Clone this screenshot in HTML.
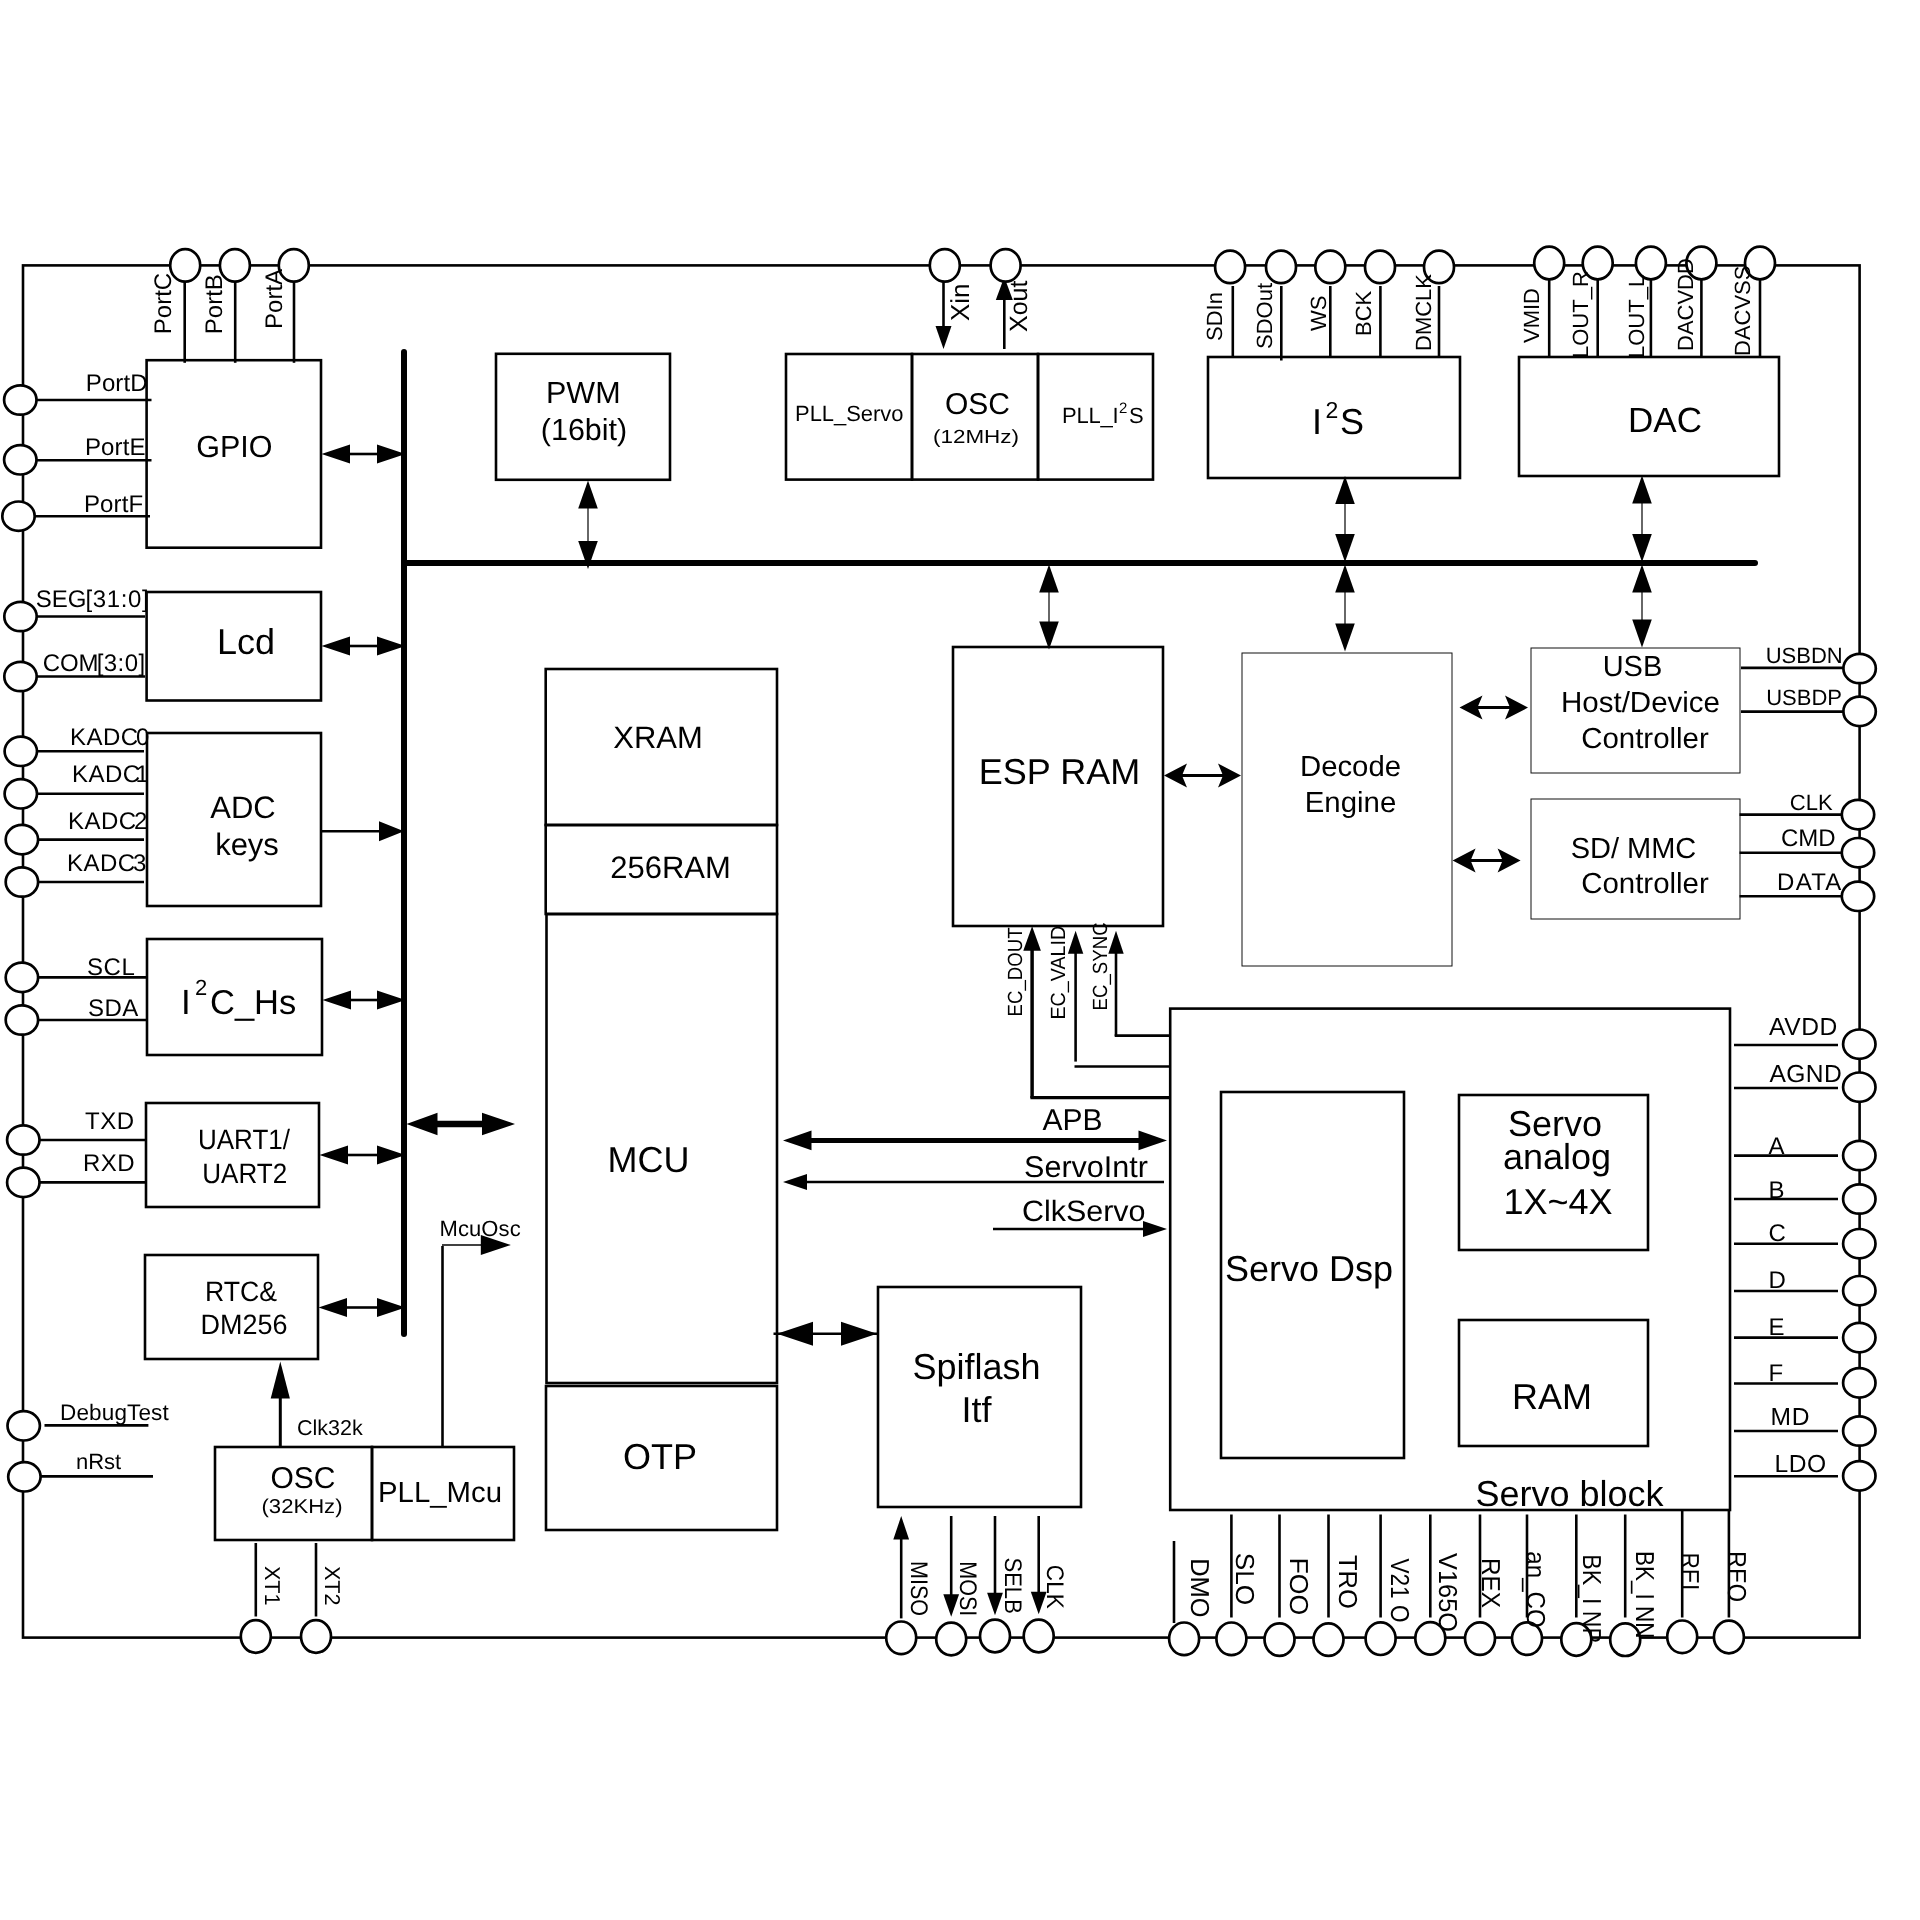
<!DOCTYPE html>
<html><head><meta charset="utf-8"><style>
html,body{margin:0;padding:0;background:#fff;}
body{width:1920px;height:1920px;overflow:hidden;}
svg{display:block;font-family:"Liberation Sans",sans-serif;fill:#000;opacity:0.9999;will-change:opacity;}
text{text-rendering:geometricPrecision;}
</style></head><body>
<svg width="1920" height="1920" viewBox="0 0 1920 1920">
<rect x="23" y="265.4" width="1836.6" height="1372.1999999999998" fill="none" stroke="#000" stroke-width="2.6"/>
<line x1="404" y1="352" x2="404" y2="1334" stroke="#000" stroke-width="6" stroke-linecap="round"/>
<line x1="404" y1="563" x2="1755" y2="563" stroke="#000" stroke-width="6" stroke-linecap="round"/>
<rect x="146.6" y="360.2" width="174.4" height="187.50000000000006" fill="none" stroke="#000" stroke-width="2.6"/>
<rect x="146.6" y="592" width="174.4" height="108.5" fill="none" stroke="#000" stroke-width="2.6"/>
<rect x="147" y="733" width="174" height="173" fill="none" stroke="#000" stroke-width="2.6"/>
<rect x="147" y="939" width="175" height="116" fill="none" stroke="#000" stroke-width="2.6"/>
<rect x="146" y="1103" width="173" height="104" fill="none" stroke="#000" stroke-width="2.6"/>
<rect x="145" y="1255" width="173" height="104" fill="none" stroke="#000" stroke-width="2.6"/>
<rect x="215" y="1447" width="157" height="93" fill="none" stroke="#000" stroke-width="2.6"/>
<rect x="372" y="1447" width="142" height="93" fill="none" stroke="#000" stroke-width="2.6"/>
<rect x="496" y="353.8" width="174" height="126.0" fill="none" stroke="#000" stroke-width="2.6"/>
<rect x="786" y="354" width="126" height="125.60000000000002" fill="none" stroke="#000" stroke-width="2.6"/>
<rect x="912" y="354" width="126" height="125.60000000000002" fill="none" stroke="#000" stroke-width="2.6"/>
<rect x="1038" y="354" width="115" height="125.60000000000002" fill="none" stroke="#000" stroke-width="2.6"/>
<rect x="1208" y="357" width="252" height="121" fill="none" stroke="#000" stroke-width="2.6"/>
<rect x="1519" y="357" width="260" height="119" fill="none" stroke="#000" stroke-width="2.6"/>
<rect x="545.7" y="669" width="231.29999999999995" height="156" fill="none" stroke="#000" stroke-width="2.6"/>
<rect x="545.7" y="825" width="231.29999999999995" height="89" fill="none" stroke="#000" stroke-width="2.6"/>
<rect x="546.5" y="914" width="230.5" height="469" fill="none" stroke="#000" stroke-width="2.6"/>
<rect x="546" y="1386" width="231" height="144" fill="none" stroke="#000" stroke-width="2.6"/>
<rect x="953" y="647" width="210" height="279" fill="none" stroke="#000" stroke-width="2.6"/>
<rect x="1242" y="653" width="210" height="313" fill="none" stroke="#111" stroke-width="1.0"/>
<rect x="1531" y="648" width="209" height="125" fill="none" stroke="#111" stroke-width="1.0"/>
<rect x="1531" y="799" width="209" height="120" fill="none" stroke="#111" stroke-width="1.0"/>
<rect x="1170.2" y="1008.6" width="559.8" height="501.4" fill="none" stroke="#000" stroke-width="2.6"/>
<rect x="1221" y="1092" width="183" height="366" fill="none" stroke="#000" stroke-width="2.6"/>
<rect x="1459" y="1095" width="189" height="155" fill="none" stroke="#000" stroke-width="2.6"/>
<rect x="1459" y="1320" width="189" height="126" fill="none" stroke="#000" stroke-width="2.6"/>
<rect x="878" y="1287" width="203" height="220" fill="none" stroke="#000" stroke-width="2.6"/>
<line x1="184.7" y1="280" x2="184.7" y2="362.8" stroke="#000" stroke-width="2.6" stroke-linecap="butt"/>
<ellipse cx="185.2" cy="265.4" rx="15.0" ry="16.3" fill="#fff" stroke="#000" stroke-width="2.7"/>
<line x1="235.2" y1="280" x2="235.2" y2="362.8" stroke="#000" stroke-width="2.6" stroke-linecap="butt"/>
<ellipse cx="234.9" cy="265.4" rx="15.0" ry="16.3" fill="#fff" stroke="#000" stroke-width="2.7"/>
<line x1="294" y1="280" x2="294" y2="362.8" stroke="#000" stroke-width="2.6" stroke-linecap="butt"/>
<ellipse cx="293.8" cy="265.4" rx="15.0" ry="16.3" fill="#fff" stroke="#000" stroke-width="2.7"/>
<line x1="36" y1="400" x2="151.5" y2="400" stroke="#000" stroke-width="2.6" stroke-linecap="butt"/>
<line x1="36" y1="460.2" x2="151.5" y2="460.2" stroke="#000" stroke-width="2.6" stroke-linecap="butt"/>
<line x1="34" y1="516.2" x2="150" y2="516.2" stroke="#000" stroke-width="2.6" stroke-linecap="butt"/>
<ellipse cx="20.3" cy="400" rx="16.2" ry="14.7" fill="#fff" stroke="#000" stroke-width="2.7"/>
<ellipse cx="20.3" cy="459.8" rx="16.2" ry="14.7" fill="#fff" stroke="#000" stroke-width="2.7"/>
<ellipse cx="18.5" cy="516.2" rx="16.2" ry="14.7" fill="#fff" stroke="#000" stroke-width="2.7"/>
<line x1="35" y1="616.5" x2="145" y2="616.5" stroke="#000" stroke-width="2.6" stroke-linecap="butt"/>
<ellipse cx="20.5" cy="616.5" rx="16.2" ry="14.7" fill="#fff" stroke="#000" stroke-width="2.7"/>
<line x1="35" y1="676.5" x2="145" y2="676.5" stroke="#000" stroke-width="2.6" stroke-linecap="butt"/>
<ellipse cx="20.5" cy="676.5" rx="16.2" ry="14.7" fill="#fff" stroke="#000" stroke-width="2.7"/>
<line x1="36" y1="751.3" x2="144" y2="751.3" stroke="#000" stroke-width="2.6" stroke-linecap="butt"/>
<ellipse cx="20.8" cy="751.3" rx="16.2" ry="14.7" fill="#fff" stroke="#000" stroke-width="2.7"/>
<line x1="36" y1="793.8" x2="144" y2="793.8" stroke="#000" stroke-width="2.6" stroke-linecap="butt"/>
<ellipse cx="20.8" cy="793.8" rx="16.2" ry="14.7" fill="#fff" stroke="#000" stroke-width="2.7"/>
<line x1="36" y1="839.6" x2="144" y2="839.6" stroke="#000" stroke-width="2.6" stroke-linecap="butt"/>
<ellipse cx="21.9" cy="839.6" rx="16.2" ry="14.7" fill="#fff" stroke="#000" stroke-width="2.7"/>
<line x1="36" y1="882" x2="144" y2="882" stroke="#000" stroke-width="2.6" stroke-linecap="butt"/>
<ellipse cx="21.9" cy="882" rx="16.2" ry="14.7" fill="#fff" stroke="#000" stroke-width="2.7"/>
<line x1="37" y1="977.4" x2="146" y2="977.4" stroke="#000" stroke-width="2.6" stroke-linecap="butt"/>
<ellipse cx="21.9" cy="977.4" rx="16.2" ry="14.7" fill="#fff" stroke="#000" stroke-width="2.7"/>
<line x1="37" y1="1020" x2="146" y2="1020" stroke="#000" stroke-width="2.6" stroke-linecap="butt"/>
<ellipse cx="21.9" cy="1020" rx="16.2" ry="14.7" fill="#fff" stroke="#000" stroke-width="2.7"/>
<line x1="38" y1="1140" x2="146" y2="1140" stroke="#000" stroke-width="2.6" stroke-linecap="butt"/>
<ellipse cx="23.3" cy="1140" rx="16.2" ry="14.7" fill="#fff" stroke="#000" stroke-width="2.7"/>
<line x1="38" y1="1182.4" x2="146" y2="1182.4" stroke="#000" stroke-width="2.6" stroke-linecap="butt"/>
<ellipse cx="23.3" cy="1182.4" rx="16.2" ry="14.7" fill="#fff" stroke="#000" stroke-width="2.7"/>
<line x1="44.5" y1="1425.4" x2="148.4" y2="1425.4" stroke="#000" stroke-width="2.6" stroke-linecap="butt"/>
<ellipse cx="23.7" cy="1425.8" rx="16.2" ry="14.7" fill="#fff" stroke="#000" stroke-width="2.7"/>
<line x1="41" y1="1476.4" x2="153" y2="1476.4" stroke="#000" stroke-width="2.6" stroke-linecap="butt"/>
<ellipse cx="24.4" cy="1476.8" rx="16.2" ry="14.7" fill="#fff" stroke="#000" stroke-width="2.7"/>
<line x1="943.5" y1="281" x2="943.5" y2="328" stroke="#000" stroke-width="2.6" stroke-linecap="butt"/>
<polygon points="943.5,349 935.5,326 951.5,326" fill="#000"/>
<ellipse cx="944.8" cy="265.4" rx="15.0" ry="16.3" fill="#fff" stroke="#000" stroke-width="2.7"/>
<line x1="1004.3" y1="300" x2="1004.3" y2="349" stroke="#000" stroke-width="2.6" stroke-linecap="butt"/>
<polygon points="1004.3,277 995.8,300 1012.8,300" fill="#000"/>
<ellipse cx="1005.6" cy="265.4" rx="15.0" ry="16.3" fill="#fff" stroke="#000" stroke-width="2.7"/>
<line x1="1232.8" y1="286" x2="1232.8" y2="356" stroke="#000" stroke-width="2.6" stroke-linecap="butt"/>
<ellipse cx="1230.1" cy="266.9" rx="15.0" ry="16.3" fill="#fff" stroke="#000" stroke-width="2.7"/>
<line x1="1281.3" y1="286" x2="1281.3" y2="360.5" stroke="#000" stroke-width="2.6" stroke-linecap="butt"/>
<ellipse cx="1281" cy="266.9" rx="15.0" ry="16.3" fill="#fff" stroke="#000" stroke-width="2.7"/>
<line x1="1330.3" y1="286" x2="1330.3" y2="356" stroke="#000" stroke-width="2.6" stroke-linecap="butt"/>
<ellipse cx="1330.3" cy="266.9" rx="15.0" ry="16.3" fill="#fff" stroke="#000" stroke-width="2.7"/>
<line x1="1380.4" y1="286" x2="1380.4" y2="356" stroke="#000" stroke-width="2.6" stroke-linecap="butt"/>
<ellipse cx="1380" cy="266.9" rx="15.0" ry="16.3" fill="#fff" stroke="#000" stroke-width="2.7"/>
<line x1="1439" y1="286" x2="1439" y2="356" stroke="#000" stroke-width="2.6" stroke-linecap="butt"/>
<ellipse cx="1439" cy="266.9" rx="15.0" ry="16.3" fill="#fff" stroke="#000" stroke-width="2.7"/>
<line x1="1549.2" y1="280" x2="1549.2" y2="356" stroke="#000" stroke-width="2.6" stroke-linecap="butt"/>
<ellipse cx="1549.2" cy="263" rx="15.0" ry="16.3" fill="#fff" stroke="#000" stroke-width="2.7"/>
<line x1="1597.7" y1="280" x2="1597.7" y2="356" stroke="#000" stroke-width="2.6" stroke-linecap="butt"/>
<ellipse cx="1597.7" cy="263" rx="15.0" ry="16.3" fill="#fff" stroke="#000" stroke-width="2.7"/>
<line x1="1650.9" y1="280" x2="1650.9" y2="356" stroke="#000" stroke-width="2.6" stroke-linecap="butt"/>
<ellipse cx="1650.9" cy="263" rx="15.0" ry="16.3" fill="#fff" stroke="#000" stroke-width="2.7"/>
<line x1="1701.4" y1="280" x2="1701.4" y2="356" stroke="#000" stroke-width="2.6" stroke-linecap="butt"/>
<ellipse cx="1701.4" cy="263" rx="15.0" ry="16.3" fill="#fff" stroke="#000" stroke-width="2.7"/>
<line x1="1760" y1="280" x2="1760" y2="356" stroke="#000" stroke-width="2.6" stroke-linecap="butt"/>
<ellipse cx="1760" cy="263" rx="15.0" ry="16.3" fill="#fff" stroke="#000" stroke-width="2.7"/>
<line x1="1741" y1="667.9" x2="1844" y2="667.9" stroke="#000" stroke-width="2.6" stroke-linecap="butt"/>
<ellipse cx="1859.6" cy="668.5" rx="16.2" ry="14.7" fill="#fff" stroke="#000" stroke-width="2.7"/>
<line x1="1741" y1="711.6" x2="1844" y2="711.6" stroke="#000" stroke-width="2.6" stroke-linecap="butt"/>
<ellipse cx="1859.6" cy="711.4" rx="16.2" ry="14.7" fill="#fff" stroke="#000" stroke-width="2.7"/>
<line x1="1739.5" y1="814.6" x2="1843" y2="814.6" stroke="#000" stroke-width="2.6" stroke-linecap="butt"/>
<ellipse cx="1858" cy="814.6" rx="16.2" ry="14.7" fill="#fff" stroke="#000" stroke-width="2.7"/>
<line x1="1739.5" y1="852.7" x2="1843" y2="852.7" stroke="#000" stroke-width="2.6" stroke-linecap="butt"/>
<ellipse cx="1858" cy="852.7" rx="16.2" ry="14.7" fill="#fff" stroke="#000" stroke-width="2.7"/>
<line x1="1739.5" y1="896.3" x2="1843" y2="896.3" stroke="#000" stroke-width="2.6" stroke-linecap="butt"/>
<ellipse cx="1858" cy="896.3" rx="16.2" ry="14.7" fill="#fff" stroke="#000" stroke-width="2.7"/>
<line x1="1734" y1="1045" x2="1838" y2="1045" stroke="#000" stroke-width="2.6" stroke-linecap="butt"/>
<ellipse cx="1859.3" cy="1044.2" rx="16.2" ry="14.7" fill="#fff" stroke="#000" stroke-width="2.7"/>
<line x1="1734" y1="1088" x2="1838" y2="1088" stroke="#000" stroke-width="2.6" stroke-linecap="butt"/>
<ellipse cx="1859.3" cy="1087.2" rx="16.2" ry="14.7" fill="#fff" stroke="#000" stroke-width="2.7"/>
<line x1="1734" y1="1155.6" x2="1838" y2="1155.6" stroke="#000" stroke-width="2.6" stroke-linecap="butt"/>
<ellipse cx="1859.3" cy="1155.5" rx="16.2" ry="14.7" fill="#fff" stroke="#000" stroke-width="2.7"/>
<line x1="1734" y1="1199" x2="1838" y2="1199" stroke="#000" stroke-width="2.6" stroke-linecap="butt"/>
<ellipse cx="1859.3" cy="1199" rx="16.2" ry="14.7" fill="#fff" stroke="#000" stroke-width="2.7"/>
<line x1="1734" y1="1243.8" x2="1838" y2="1243.8" stroke="#000" stroke-width="2.6" stroke-linecap="butt"/>
<ellipse cx="1859.3" cy="1243.7" rx="16.2" ry="14.7" fill="#fff" stroke="#000" stroke-width="2.7"/>
<line x1="1734" y1="1291" x2="1838" y2="1291" stroke="#000" stroke-width="2.6" stroke-linecap="butt"/>
<ellipse cx="1859.3" cy="1290.7" rx="16.2" ry="14.7" fill="#fff" stroke="#000" stroke-width="2.7"/>
<line x1="1734" y1="1337.6" x2="1838" y2="1337.6" stroke="#000" stroke-width="2.6" stroke-linecap="butt"/>
<ellipse cx="1859.3" cy="1337.6" rx="16.2" ry="14.7" fill="#fff" stroke="#000" stroke-width="2.7"/>
<line x1="1734" y1="1383.5" x2="1838" y2="1383.5" stroke="#000" stroke-width="2.6" stroke-linecap="butt"/>
<ellipse cx="1859.3" cy="1382.9" rx="16.2" ry="14.7" fill="#fff" stroke="#000" stroke-width="2.7"/>
<line x1="1734" y1="1431" x2="1838" y2="1431" stroke="#000" stroke-width="2.6" stroke-linecap="butt"/>
<ellipse cx="1859.3" cy="1431" rx="16.2" ry="14.7" fill="#fff" stroke="#000" stroke-width="2.7"/>
<line x1="1734" y1="1476.2" x2="1838" y2="1476.2" stroke="#000" stroke-width="2.6" stroke-linecap="butt"/>
<ellipse cx="1859.3" cy="1475.9" rx="16.2" ry="14.7" fill="#fff" stroke="#000" stroke-width="2.7"/>
<line x1="255.8" y1="1543" x2="255.8" y2="1616.5" stroke="#000" stroke-width="2.6" stroke-linecap="butt"/>
<ellipse cx="255.8" cy="1636.5" rx="15.0" ry="16.3" fill="#fff" stroke="#000" stroke-width="2.7"/>
<line x1="316" y1="1543" x2="316" y2="1616.5" stroke="#000" stroke-width="2.6" stroke-linecap="butt"/>
<ellipse cx="316" cy="1636.5" rx="15.0" ry="16.3" fill="#fff" stroke="#000" stroke-width="2.7"/>
<line x1="901.2" y1="1538" x2="901.2" y2="1618.4" stroke="#000" stroke-width="2.6" stroke-linecap="butt"/>
<polygon points="901.2,1516 893.3000000000001,1539.5 909.1,1539.5" fill="#000"/>
<ellipse cx="901.2" cy="1637.8" rx="15.0" ry="16.3" fill="#fff" stroke="#000" stroke-width="2.7"/>
<line x1="951.2" y1="1516" x2="951.2" y2="1595.8" stroke="#000" stroke-width="2.6" stroke-linecap="butt"/>
<polygon points="951.2,1616.8 943.3000000000001,1594.3 959.1,1594.3" fill="#000"/>
<line x1="995" y1="1516" x2="995" y2="1594.2" stroke="#000" stroke-width="2.6" stroke-linecap="butt"/>
<polygon points="995,1615.2 987.1,1592.7 1002.9,1592.7" fill="#000"/>
<line x1="1038.7" y1="1516" x2="1038.7" y2="1593.2" stroke="#000" stroke-width="2.6" stroke-linecap="butt"/>
<polygon points="1038.7,1614.2 1030.8,1591.7 1046.6000000000001,1591.7" fill="#000"/>
<ellipse cx="951.2" cy="1639" rx="15.0" ry="16.3" fill="#fff" stroke="#000" stroke-width="2.7"/>
<ellipse cx="995" cy="1636" rx="15.0" ry="16.3" fill="#fff" stroke="#000" stroke-width="2.7"/>
<ellipse cx="1038.7" cy="1636" rx="15.0" ry="16.3" fill="#fff" stroke="#000" stroke-width="2.7"/>
<line x1="1174" y1="1541" x2="1174" y2="1623" stroke="#000" stroke-width="2.6" stroke-linecap="butt"/>
<line x1="1231.4" y1="1514.5" x2="1231.4" y2="1617.5" stroke="#000" stroke-width="2.6" stroke-linecap="butt"/>
<line x1="1279.5" y1="1514.5" x2="1279.5" y2="1617.5" stroke="#000" stroke-width="2.6" stroke-linecap="butt"/>
<line x1="1328.5" y1="1514.5" x2="1328.5" y2="1617.5" stroke="#000" stroke-width="2.6" stroke-linecap="butt"/>
<line x1="1380.6" y1="1514.5" x2="1380.6" y2="1617.5" stroke="#000" stroke-width="2.6" stroke-linecap="butt"/>
<line x1="1430.3" y1="1514.5" x2="1430.3" y2="1617.5" stroke="#000" stroke-width="2.6" stroke-linecap="butt"/>
<line x1="1480" y1="1514.5" x2="1480" y2="1617.5" stroke="#000" stroke-width="2.6" stroke-linecap="butt"/>
<line x1="1527" y1="1514.5" x2="1527" y2="1617.5" stroke="#000" stroke-width="2.6" stroke-linecap="butt"/>
<line x1="1576.3" y1="1514.5" x2="1576.3" y2="1617.5" stroke="#000" stroke-width="2.6" stroke-linecap="butt"/>
<line x1="1625.2" y1="1514.5" x2="1625.2" y2="1617.5" stroke="#000" stroke-width="2.6" stroke-linecap="butt"/>
<line x1="1682.2" y1="1511" x2="1682.2" y2="1617.5" stroke="#000" stroke-width="2.6" stroke-linecap="butt"/>
<line x1="1728.9" y1="1511" x2="1728.9" y2="1617.5" stroke="#000" stroke-width="2.6" stroke-linecap="butt"/>
<ellipse cx="1184.1" cy="1638.8" rx="15.0" ry="16.3" fill="#fff" stroke="#000" stroke-width="2.7"/>
<ellipse cx="1231.4" cy="1638.8" rx="15.0" ry="16.3" fill="#fff" stroke="#000" stroke-width="2.7"/>
<ellipse cx="1279.5" cy="1639.6" rx="15.0" ry="16.3" fill="#fff" stroke="#000" stroke-width="2.7"/>
<ellipse cx="1328.5" cy="1639.6" rx="15.0" ry="16.3" fill="#fff" stroke="#000" stroke-width="2.7"/>
<ellipse cx="1380.6" cy="1638.7" rx="15.0" ry="16.3" fill="#fff" stroke="#000" stroke-width="2.7"/>
<ellipse cx="1430.3" cy="1638.4" rx="15.0" ry="16.3" fill="#fff" stroke="#000" stroke-width="2.7"/>
<ellipse cx="1480" cy="1638.6" rx="15.0" ry="16.3" fill="#fff" stroke="#000" stroke-width="2.7"/>
<ellipse cx="1527" cy="1638.6" rx="15.0" ry="16.3" fill="#fff" stroke="#000" stroke-width="2.7"/>
<ellipse cx="1576.3" cy="1639.5" rx="15.0" ry="16.3" fill="#fff" stroke="#000" stroke-width="2.7"/>
<ellipse cx="1625.2" cy="1639.7" rx="15.0" ry="16.3" fill="#fff" stroke="#000" stroke-width="2.7"/>
<ellipse cx="1682.2" cy="1636.8" rx="15.0" ry="16.3" fill="#fff" stroke="#000" stroke-width="2.7"/>
<ellipse cx="1728.9" cy="1637" rx="15.0" ry="16.3" fill="#fff" stroke="#000" stroke-width="2.7"/>
<line x1="349.0" y1="454" x2="378.0" y2="454" stroke="#000" stroke-width="2.6" stroke-linecap="butt"/>
<polygon points="321.5,454 350.0,444.4 350.0,463.6" fill="#000"/>
<polygon points="405.5,454 377.0,444.4 377.0,463.6" fill="#000"/>
<line x1="349.0" y1="646" x2="378.0" y2="646" stroke="#000" stroke-width="2.6" stroke-linecap="butt"/>
<polygon points="321.5,646 350.0,636.4 350.0,655.6" fill="#000"/>
<polygon points="405.5,646 377.0,636.4 377.0,655.6" fill="#000"/>
<line x1="321" y1="831.2" x2="380" y2="831.2" stroke="#000" stroke-width="2.6" stroke-linecap="butt"/>
<polygon points="404,831.2 379,821.2 379,841.2" fill="#000"/>
<line x1="350.0" y1="1000" x2="378.0" y2="1000" stroke="#000" stroke-width="2.6" stroke-linecap="butt"/>
<polygon points="322.5,1000 351.0,990.4 351.0,1009.6" fill="#000"/>
<polygon points="405.5,1000 377.0,990.4 377.0,1009.6" fill="#000"/>
<line x1="347.0" y1="1155" x2="378.0" y2="1155" stroke="#000" stroke-width="2.6" stroke-linecap="butt"/>
<polygon points="319.5,1155 348.0,1145.4 348.0,1164.6" fill="#000"/>
<polygon points="405.5,1155 377.0,1145.4 377.0,1164.6" fill="#000"/>
<line x1="346.0" y1="1307.5" x2="378.0" y2="1307.5" stroke="#000" stroke-width="2.6" stroke-linecap="butt"/>
<polygon points="318.5,1307.5 347.0,1297.9 347.0,1317.1" fill="#000"/>
<polygon points="405.5,1307.5 377.0,1297.9 377.0,1317.1" fill="#000"/>
<line x1="435" y1="1124" x2="485" y2="1124" stroke="#000" stroke-width="6.5" stroke-linecap="butt"/>
<polygon points="406.5,1124 437.5,1112.7 437.5,1135.3" fill="#000"/>
<polygon points="515,1124 482,1112.7 482,1135.3" fill="#000"/>
<line x1="588" y1="507.5" x2="588" y2="542" stroke="#000" stroke-width="1.2" stroke-linecap="butt"/>
<polygon points="588,480.5 578.2,508.5 597.8,508.5" fill="#000"/>
<polygon points="588,569 578.2,541 597.8,541" fill="#000"/>
<line x1="1049" y1="591.5" x2="1049" y2="622.5" stroke="#000" stroke-width="1.2" stroke-linecap="butt"/>
<polygon points="1049,564.5 1039.2,592.5 1058.8,592.5" fill="#000"/>
<polygon points="1049,649.5 1039.2,621.5 1058.8,621.5" fill="#000"/>
<line x1="1345" y1="503" x2="1345" y2="535" stroke="#000" stroke-width="1.2" stroke-linecap="butt"/>
<polygon points="1345,476 1335.2,504 1354.8,504" fill="#000"/>
<polygon points="1345,562 1335.2,534 1354.8,534" fill="#000"/>
<line x1="1345" y1="591.5" x2="1345" y2="624.5" stroke="#000" stroke-width="1.2" stroke-linecap="butt"/>
<polygon points="1345,564.5 1335.2,592.5 1354.8,592.5" fill="#000"/>
<polygon points="1345,651.5 1335.2,623.5 1354.8,623.5" fill="#000"/>
<line x1="1642" y1="502.5" x2="1642" y2="535" stroke="#000" stroke-width="1.2" stroke-linecap="butt"/>
<polygon points="1642,475.5 1632.2,503.5 1651.8,503.5" fill="#000"/>
<polygon points="1642,562 1632.2,534 1651.8,534" fill="#000"/>
<line x1="1642" y1="591.5" x2="1642" y2="620.5" stroke="#000" stroke-width="1.2" stroke-linecap="butt"/>
<polygon points="1642,564.5 1632.2,592.5 1651.8,592.5" fill="#000"/>
<polygon points="1642,647.5 1632.2,619.5 1651.8,619.5" fill="#000"/>
<line x1="1181" y1="775.6" x2="1224" y2="775.6" stroke="#000" stroke-width="3" stroke-linecap="butt"/>
<polygon points="1164,775.6 1187,763.6 1182,775.6 1187,787.6" fill="#000"/>
<polygon points="1241,775.6 1218,763.6 1223,775.6 1218,787.6" fill="#000"/>
<line x1="1476.5" y1="707.6" x2="1511" y2="707.6" stroke="#000" stroke-width="3" stroke-linecap="butt"/>
<polygon points="1459.5,707.6 1482.5,695.6 1477.5,707.6 1482.5,719.6" fill="#000"/>
<polygon points="1528,707.6 1505,695.6 1510,707.6 1505,719.6" fill="#000"/>
<line x1="1469.6" y1="860.6" x2="1503.6" y2="860.6" stroke="#000" stroke-width="3" stroke-linecap="butt"/>
<polygon points="1452.6,860.6 1475.6,848.6 1470.6,860.6 1475.6,872.6" fill="#000"/>
<polygon points="1520.6,860.6 1497.6,848.6 1502.6,860.6 1497.6,872.6" fill="#000"/>
<line x1="1032.1" y1="949" x2="1032.1" y2="1098" stroke="#000" stroke-width="3.5" stroke-linecap="butt"/>
<line x1="1030.4" y1="1097.7" x2="1170" y2="1097.7" stroke="#000" stroke-width="3.2" stroke-linecap="butt"/>
<polygon points="1032.1,926.3 1023.3,950.8 1040.8999999999999,950.8" fill="#000"/>
<line x1="1075.6" y1="952" x2="1075.6" y2="1061.6" stroke="#000" stroke-width="2.6" stroke-linecap="butt"/>
<line x1="1074.5" y1="1066.5" x2="1170" y2="1066.5" stroke="#000" stroke-width="2.6" stroke-linecap="butt"/>
<polygon points="1075.6,930.7 1067.8999999999999,953.7 1083.3,953.7" fill="#000"/>
<line x1="1116" y1="952" x2="1116" y2="1036" stroke="#000" stroke-width="2.6" stroke-linecap="butt"/>
<line x1="1114.7" y1="1035.6" x2="1170" y2="1035.6" stroke="#000" stroke-width="2.6" stroke-linecap="butt"/>
<polygon points="1116,930.7 1108.3,953.7 1123.7,953.7" fill="#000"/>
<line x1="810" y1="1140.4" x2="1140" y2="1140.4" stroke="#000" stroke-width="5" stroke-linecap="butt"/>
<polygon points="783,1140.4 811.5,1130.6000000000001 811.5,1150.2" fill="#000"/>
<polygon points="1167,1140.4 1138.5,1130.6000000000001 1138.5,1150.2" fill="#000"/>
<line x1="805" y1="1182" x2="1164" y2="1182" stroke="#000" stroke-width="2.6" stroke-linecap="butt"/>
<polygon points="783,1182 807,1174 807,1190" fill="#000"/>
<line x1="993" y1="1229" x2="1145" y2="1229" stroke="#000" stroke-width="2.6" stroke-linecap="butt"/>
<polygon points="1167,1229 1143,1221 1143,1237" fill="#000"/>
<line x1="773.5" y1="1333.8" x2="878" y2="1333.8" stroke="#000" stroke-width="2.6" stroke-linecap="butt"/>
<polygon points="777,1333.8 813,1321.8 813,1345.8" fill="#000"/>
<polygon points="877,1333.8 841,1321.8 841,1345.8" fill="#000"/>
<line x1="280.3" y1="1395" x2="280.3" y2="1447" stroke="#000" stroke-width="3" stroke-linecap="butt"/>
<polygon points="280.3,1361.5 270.7,1398.5 289.90000000000003,1398.5" fill="#000"/>
<line x1="442.5" y1="1246" x2="442.5" y2="1447" stroke="#000" stroke-width="2.6" stroke-linecap="butt"/>
<line x1="442" y1="1245" x2="485" y2="1245" stroke="#000" stroke-width="1.5" stroke-linecap="butt"/>
<polygon points="510.8,1245 480.8,1235 480.8,1255" fill="#000"/>
<text x="171.4" y="334.2" font-size="24" text-anchor="start" transform="rotate(-90 171.4 334.2)">PortC</text>
<text x="221.6" y="334.2" font-size="24" text-anchor="start" transform="rotate(-90 221.6 334.2)">PortB</text>
<text x="282.4" y="328.9" font-size="24" text-anchor="start" transform="rotate(-90 282.4 328.9)">PortA</text>
<text x="85.8" y="391.3" font-size="24" text-anchor="start" letter-spacing="0.1">PortD</text>
<text x="85" y="455" font-size="24" text-anchor="start" letter-spacing="0.1">PortE</text>
<text x="84" y="512" font-size="24" text-anchor="start" letter-spacing="0.1">PortF</text>
<text x="234.3" y="456.8" font-size="30.5" text-anchor="middle">GPIO</text>
<text x="35.8" y="607" font-size="24" text-anchor="start">SEG<tspan dx="-0.9" letter-spacing="0.6">[31:0]</tspan></text>
<text x="42.8" y="671" font-size="24" text-anchor="start" letter-spacing="-0.2">COM<tspan dx="-1.4" letter-spacing="0.4">[3:0]</tspan></text>
<text x="246" y="654" font-size="36" text-anchor="middle">Lcd</text>
<text x="70" y="745.2" font-size="24" text-anchor="start" letter-spacing="0.5">KADC<tspan dx="-2.8">0</tspan></text>
<text x="72" y="782.2" font-size="24" text-anchor="start" letter-spacing="0.5">KADC<tspan dx="-5.2">1</tspan></text>
<text x="68" y="829.2" font-size="24" text-anchor="start" letter-spacing="0.5">KADC<tspan dx="-2.8">2</tspan></text>
<text x="67" y="871.2" font-size="24" text-anchor="start" letter-spacing="0.5">KADC<tspan dx="-2.8">3</tspan></text>
<text x="243" y="818" font-size="31" text-anchor="middle">ADC</text>
<text x="247" y="855" font-size="31" text-anchor="middle">keys</text>
<text x="87" y="975" font-size="24" text-anchor="start" letter-spacing="0.6">SCL</text>
<text x="88" y="1016" font-size="24" text-anchor="start" letter-spacing="0.5">SDA</text>
<text x="181" y="1013.5" font-size="35" text-anchor="start">I</text>
<text x="195" y="995" font-size="22" text-anchor="start">2</text>
<text x="210" y="1013.5" font-size="34.5" text-anchor="start">C_Hs</text>
<text x="85" y="1129" font-size="24" text-anchor="start" letter-spacing="0.5">TXD</text>
<text x="83" y="1171" font-size="24" text-anchor="start" letter-spacing="0.5">RXD</text>
<text x="244" y="1149" font-size="28" text-anchor="middle" textLength="92" lengthAdjust="spacingAndGlyphs">UART1/</text>
<text x="244.7" y="1183" font-size="28" text-anchor="middle" textLength="85" lengthAdjust="spacingAndGlyphs">UART2</text>
<text x="241" y="1301" font-size="28" text-anchor="middle" textLength="72" lengthAdjust="spacingAndGlyphs">RTC&amp;</text>
<text x="244" y="1334" font-size="28" text-anchor="middle" textLength="87" lengthAdjust="spacingAndGlyphs">DM256</text>
<text x="60" y="1419.8" font-size="22.5" text-anchor="start" letter-spacing="0.15">DebugTest</text>
<text x="76" y="1469.3" font-size="22" text-anchor="start">nRst</text>
<text x="297" y="1435" font-size="21.5" text-anchor="start">Clk32k</text>
<text x="303" y="1487.5" font-size="30" text-anchor="middle">OSC</text>
<text x="302" y="1513" font-size="20" text-anchor="middle" textLength="81" lengthAdjust="spacingAndGlyphs">(32KHz)</text>
<text x="440" y="1502" font-size="29" text-anchor="middle" textLength="124" lengthAdjust="spacingAndGlyphs">PLL_Mcu</text>
<text x="439.5" y="1236" font-size="22" text-anchor="start" letter-spacing="0.1">McuOsc</text>
<text x="264.5" y="1566" font-size="21.5" text-anchor="start" transform="rotate(90 264.5 1566)">XT1</text>
<text x="325" y="1566" font-size="21.5" text-anchor="start" transform="rotate(90 325 1566)">XT2</text>
<text x="583.3" y="403" font-size="30.5" text-anchor="middle">PWM</text>
<text x="584" y="440" font-size="30.5" text-anchor="middle">(16bit)</text>
<text x="795" y="421" font-size="22" text-anchor="start" textLength="108.5" lengthAdjust="spacingAndGlyphs">PLL_Servo</text>
<text x="977.5" y="414" font-size="30" text-anchor="middle">OSC</text>
<text x="976" y="442.5" font-size="19" text-anchor="middle" textLength="86" lengthAdjust="spacingAndGlyphs">(12MHz)</text>
<text x="1062" y="423" font-size="22" text-anchor="start" letter-spacing="-0.2">PLL_I</text>
<text x="1119" y="413" font-size="15" text-anchor="start">2</text>
<text x="1129" y="423" font-size="22" text-anchor="start">S</text>
<text x="969" y="321" font-size="26" text-anchor="start" transform="rotate(-90 969 321)">Xin</text>
<text x="1026.5" y="332" font-size="25" text-anchor="start" transform="rotate(-90 1026.5 332)">Xout</text>
<text x="1221.5" y="341" font-size="22" text-anchor="start" transform="rotate(-90 1221.5 341)">SDIn</text>
<text x="1272" y="349" font-size="22" text-anchor="start" transform="rotate(-90 1272 349)">SDOut</text>
<text x="1325.5" y="331" font-size="22" text-anchor="start" transform="rotate(-90 1325.5 331)">WS</text>
<text x="1370.5" y="336" font-size="22" text-anchor="start" transform="rotate(-90 1370.5 336)">BCK</text>
<text x="1430.5" y="351" font-size="22" text-anchor="start" transform="rotate(-90 1430.5 351)">DMCLK</text>
<text x="1539" y="343" font-size="22" text-anchor="start" transform="rotate(-90 1539 343)">VMID</text>
<text x="1587.5" y="358" font-size="22" text-anchor="start" transform="rotate(-90 1587.5 358)">LOUT_R</text>
<text x="1643.5" y="358" font-size="22" text-anchor="start" transform="rotate(-90 1643.5 358)">LOUT_L</text>
<text x="1693" y="351" font-size="22" text-anchor="start" transform="rotate(-90 1693 351)">DACVDD</text>
<text x="1750" y="356" font-size="22" text-anchor="start" transform="rotate(-90 1750 356)">DACVSS</text>
<text x="1312" y="434.3" font-size="36" text-anchor="start">I</text>
<text x="1325.5" y="417.5" font-size="23" text-anchor="start">2</text>
<text x="1340" y="434.3" font-size="36" text-anchor="start">S</text>
<text x="1665" y="431.5" font-size="35" text-anchor="middle">DAC</text>
<text x="658" y="748" font-size="31" text-anchor="middle">XRAM</text>
<text x="670.5" y="878" font-size="31" text-anchor="middle">256RAM</text>
<text x="648.5" y="1172" font-size="36" text-anchor="middle">MCU</text>
<text x="660" y="1469" font-size="36" text-anchor="middle">OTP</text>
<text x="1059.5" y="784" font-size="36" text-anchor="middle">ESP RAM</text>
<text x="1350.5" y="776" font-size="29" text-anchor="middle" textLength="101" lengthAdjust="spacingAndGlyphs">Decode</text>
<text x="1350.5" y="812" font-size="29" text-anchor="middle" textLength="91.5" lengthAdjust="spacingAndGlyphs">Engine</text>
<text x="1632.5" y="676" font-size="29" text-anchor="middle">USB</text>
<text x="1640.5" y="712" font-size="29" text-anchor="middle" textLength="159" lengthAdjust="spacingAndGlyphs">Host/Device</text>
<text x="1645" y="748" font-size="29" text-anchor="middle" textLength="127.5" lengthAdjust="spacingAndGlyphs">Controller</text>
<text x="1765.7" y="663" font-size="22" text-anchor="start">USBDN</text>
<text x="1766.2" y="705" font-size="22" text-anchor="start">USBDP</text>
<text x="1633.5" y="858" font-size="29" text-anchor="middle">SD/ MMC</text>
<text x="1645" y="893.3" font-size="29" text-anchor="middle" textLength="127.5" lengthAdjust="spacingAndGlyphs">Controller</text>
<text x="1789.8" y="809.8" font-size="22" text-anchor="start">CLK</text>
<text x="1781" y="846" font-size="24" text-anchor="start">CMD</text>
<text x="1777" y="890" font-size="24" text-anchor="start" letter-spacing="1.3">DATA</text>
<text x="1021.6" y="1016.4" font-size="20.5" text-anchor="start" transform="rotate(-90 1021.6 1016.4)" textLength="89" lengthAdjust="spacingAndGlyphs">EC_DOUT</text>
<text x="1065.3" y="1019.5" font-size="20.5" text-anchor="start" transform="rotate(-90 1065.3 1019.5)" textLength="93.7" lengthAdjust="spacingAndGlyphs">EC_VALID</text>
<text x="1107" y="1010.4" font-size="20.5" text-anchor="start" transform="rotate(-90 1107 1010.4)" textLength="88" lengthAdjust="spacingAndGlyphs">EC_SYNC</text>
<text x="1072.5" y="1130" font-size="30" text-anchor="middle">APB</text>
<text x="1024" y="1177" font-size="30" text-anchor="start" textLength="124" lengthAdjust="spacingAndGlyphs">ServoIntr</text>
<text x="1022" y="1221" font-size="29.5" text-anchor="start" textLength="123.5" lengthAdjust="spacingAndGlyphs">ClkServo</text>
<text x="976.5" y="1379" font-size="36" text-anchor="middle">Spiflash</text>
<text x="976.5" y="1422" font-size="36" text-anchor="middle">Itf</text>
<text x="910.6" y="1561" font-size="24" text-anchor="start" transform="rotate(90 910.6 1561)" textLength="55" lengthAdjust="spacingAndGlyphs">MISO</text>
<text x="959.6" y="1561.3" font-size="24" text-anchor="start" transform="rotate(90 959.6 1561.3)" textLength="55" lengthAdjust="spacingAndGlyphs">MOSI</text>
<text x="1004.6" y="1557.4" font-size="24" text-anchor="start" transform="rotate(90 1004.6 1557.4)" textLength="56.5" lengthAdjust="spacingAndGlyphs">SELB</text>
<text x="1046.5" y="1564.8" font-size="24" text-anchor="start" transform="rotate(90 1046.5 1564.8)" textLength="44" lengthAdjust="spacingAndGlyphs">CLK</text>
<text x="1769" y="1035.3" font-size="24.6" text-anchor="start" letter-spacing="0.6">AVDD</text>
<text x="1769.5" y="1081.7" font-size="24.6" text-anchor="start" letter-spacing="0.4">AGND</text>
<text x="1768.5" y="1154.3" font-size="24" text-anchor="start">A</text>
<text x="1768.5" y="1197.7" font-size="24" text-anchor="start">B</text>
<text x="1768.5" y="1241" font-size="24" text-anchor="start">C</text>
<text x="1768.5" y="1287.5" font-size="24" text-anchor="start">D</text>
<text x="1768.5" y="1335" font-size="24" text-anchor="start">E</text>
<text x="1768.5" y="1380.5" font-size="24" text-anchor="start">F</text>
<text x="1770.5" y="1424.5" font-size="24.6" text-anchor="start" letter-spacing="0.7">MD</text>
<text x="1774.5" y="1471.5" font-size="24.6" text-anchor="start" letter-spacing="0.5">LDO</text>
<text x="1555" y="1136" font-size="36" text-anchor="middle">Servo</text>
<text x="1557" y="1169" font-size="36" text-anchor="middle">analog</text>
<text x="1558" y="1214" font-size="36" text-anchor="middle">1X~4X</text>
<text x="1309" y="1281" font-size="36" text-anchor="middle" textLength="168" lengthAdjust="spacingAndGlyphs">Servo Dsp</text>
<text x="1552" y="1408.5" font-size="36" text-anchor="middle">RAM</text>
<text x="1569.5" y="1506" font-size="36" text-anchor="middle">Servo block</text>
<text x="1191.4" y="1558.2" font-size="26" text-anchor="start" transform="rotate(90 1191.4 1558.2)" textLength="59.5" lengthAdjust="spacingAndGlyphs">DMO</text>
<text x="1236" y="1552.7" font-size="26" text-anchor="start" transform="rotate(90 1236 1552.7)" textLength="52.5" lengthAdjust="spacingAndGlyphs">SLO</text>
<text x="1290" y="1557.6" font-size="26" text-anchor="start" transform="rotate(90 1290 1557.6)" textLength="57.7" lengthAdjust="spacingAndGlyphs">FOO</text>
<text x="1338.6" y="1555" font-size="26" text-anchor="start" transform="rotate(90 1338.6 1555)" textLength="54" lengthAdjust="spacingAndGlyphs">TRO</text>
<text x="1391.4" y="1558.5" font-size="26" text-anchor="start" transform="rotate(90 1391.4 1558.5)" textLength="64" lengthAdjust="spacingAndGlyphs">V21 O</text>
<text x="1438.8" y="1553" font-size="26" text-anchor="start" transform="rotate(90 1438.8 1553)" textLength="79" lengthAdjust="spacingAndGlyphs">V165O</text>
<text x="1482" y="1558" font-size="26" text-anchor="start" transform="rotate(90 1482 1558)" textLength="50" lengthAdjust="spacingAndGlyphs">REX</text>
<text x="1527.4" y="1551.3" font-size="26" text-anchor="start" transform="rotate(90 1527.4 1551.3)" textLength="76.5" lengthAdjust="spacingAndGlyphs">an_CO</text>
<text x="1583.1" y="1554.3" font-size="26" text-anchor="start" transform="rotate(90 1583.1 1554.3)" textLength="88.5" lengthAdjust="spacingAndGlyphs">BK_I NP</text>
<text x="1635.5" y="1551.1" font-size="26" text-anchor="start" transform="rotate(90 1635.5 1551.1)" textLength="87.5" lengthAdjust="spacingAndGlyphs">BK_I NN</text>
<text x="1680.5" y="1552.4" font-size="26" text-anchor="start" transform="rotate(90 1680.5 1552.4)" textLength="38" lengthAdjust="spacingAndGlyphs">REI</text>
<text x="1727.6" y="1551" font-size="26" text-anchor="start" transform="rotate(90 1727.6 1551)" textLength="51" lengthAdjust="spacingAndGlyphs">REO</text>
</svg>
</body></html>
